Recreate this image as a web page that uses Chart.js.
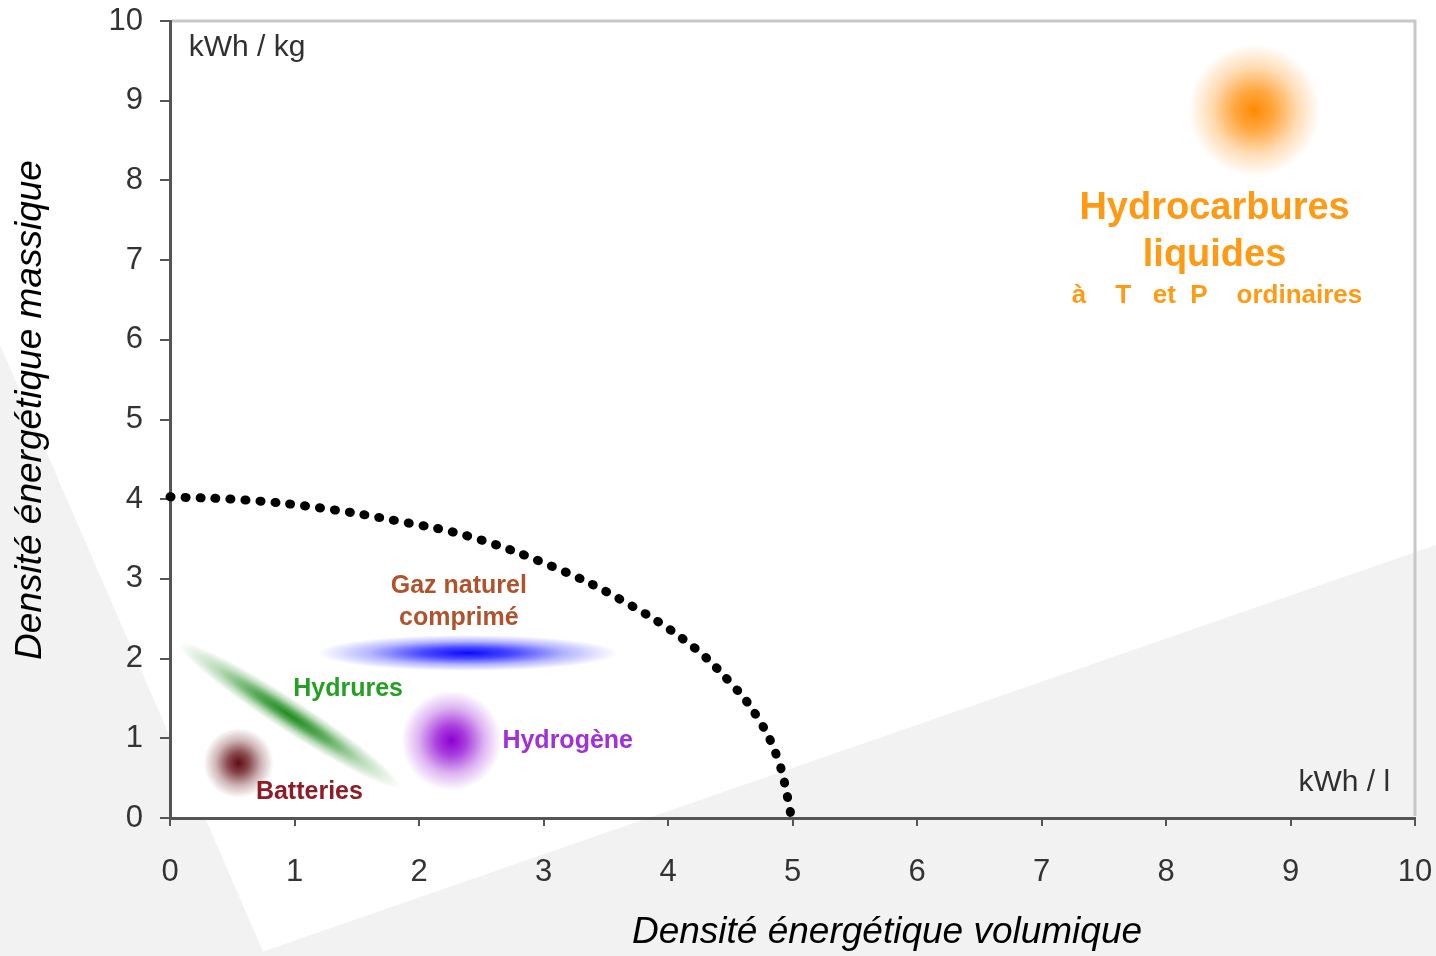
<!DOCTYPE html>
<html lang="fr">
<head>
<meta charset="utf-8">
<title>Densité énergétique</title>
<script src="https://cdn.jsdelivr.net/npm/chart.js@4.4.1/dist/chart.umd.min.js"></script>
<style>
  html, body { margin: 0; padding: 0; background: #fff; }
  #wrap { width: 1436px; height: 956px; }
</style>
</head>
<body>
<div id="wrap"><canvas id="chart" width="1436" height="956"></canvas></div>
<script>
// --- data ---
const axisMin = 0;
const axisMax = 10;

// dotted limit curve (kWh/l, kWh/kg)
const curveX = [0, 0.6, 1.21, 1.85, 2.41, 3.08, 3.62, 4.16, 4.5, 4.72, 4.88, 4.97, 4.99];
const curveY = [4.03, 3.99, 3.89, 3.72, 3.53, 3.15, 2.74, 2.2, 1.7, 1.26, 0.75, 0.19, 0];

// storage technologies (centre of each blob)
const blobNames = ['Batteries', 'Hydrures', 'Gaz naturel comprimé', 'Hydrogène', 'Hydrocarbures liquides'];
const blobX = [0.55, 0.96, 2.39, 2.26, 8.71];
const blobY = [0.69, 1.29, 2.07, 0.97, 8.88];

// text labels and their anchor in data units
const labelText = ['kWh / kg', 'kWh / l', 'Gaz naturel', 'comprimé', 'Hydrures', 'Batteries', 'Hydrogène',
                   'Hydrocarbures', 'liquides', 'à    T   et  P    ordinaires'];
const labelX = [0.15, 9.8, 2.32, 2.32, 0.99, 0.69, 2.67, 8.39, 8.39, 8.41];
const labelY = [9.66, 0.44, 2.91, 2.51, 1.62, 0.33, 0.97, 7.65, 7.06, 6.55];

// --- styles ---
const FONT = '"Liberation Sans", Arial, sans-serif';
const blobStyle = [
    { rgb: [95, 12, 18],  rx: 35,  ry: 35, rot: 0 },
    { rgb: [30, 140, 30], rx: 132, ry: 16, rot: 33 },
    { rgb: [10, 10, 255], rx: 150, ry: 18, rot: 0 },
    { rgb: [140, 0, 210], rx: 50,  ry: 50, rot: 0 },
    { rgb: [255, 138, 0], rx: 66,  ry: 66, rot: 0 }
];
const labelStyle = [
    { font: `30px ${FONT}`, color: '#303030', align: 'left' },
    { font: `30px ${FONT}`, color: '#303030', align: 'right' },
    { font: `bold 25px ${FONT}`, color: '#b0532c', align: 'center' },
    { font: `bold 25px ${FONT}`, color: '#b0532c', align: 'center' },
    { font: `bold 25px ${FONT}`, color: '#25a025', align: 'left' },
    { font: `bold 25px ${FONT}`, color: '#8e1c26', align: 'left' },
    { font: `bold 25px ${FONT}`, color: '#a030d8', align: 'left' },
    { font: `bold 38px ${FONT}`, color: '#ff9a14', align: 'center' },
    { font: `bold 38px ${FONT}`, color: '#ff9a14', align: 'center' },
    { font: `bold 26px ${FONT}`, color: '#ff9a14', align: 'center' }
];

const backdrop = {
    id: 'backdrop',
    beforeDraw(chart) {
        const { ctx, width, height, chartArea: a } = chart;
        ctx.save();
        ctx.fillStyle = '#ffffff';
        ctx.fillRect(0, 0, width, height);
        ctx.fillStyle = '#f2f2f2';
        // left wedge stays outside the plot area
        ctx.save();
        ctx.beginPath();
        ctx.rect(0, 0, width, height);
        ctx.rect(a.left, a.top, a.right - a.left, a.bottom - a.top);
        ctx.clip('evenodd');
        ctx.beginPath();
        ctx.moveTo(0, 345); ctx.lineTo(265, height); ctx.lineTo(0, height);
        ctx.closePath(); ctx.fill();
        ctx.restore();
        ctx.beginPath();
        ctx.moveTo(250, height); ctx.lineTo(width, 545); ctx.lineTo(width, height);
        ctx.closePath(); ctx.fill();
        ctx.restore();
    }
};

const blobs = {
    id: 'blobs',
    beforeDatasetsDraw(chart) {
        const { ctx, scales: { x, y } } = chart;
        blobX.forEach((bx, i) => {
            const s = blobStyle[i];
            const c = s.rgb.join(',');
            ctx.save();
            ctx.translate(x.getPixelForValue(bx), y.getPixelForValue(blobY[i]));
            ctx.rotate(s.rot * Math.PI / 180);
            ctx.scale(s.rx, s.ry);
            const g = ctx.createRadialGradient(0, 0, 0, 0, 0, 1);
            g.addColorStop(0, `rgba(${c},1)`);
            g.addColorStop(0.3, `rgba(${c},0.75)`);
            g.addColorStop(0.65, `rgba(${c},0.3)`);
            g.addColorStop(1, `rgba(${c},0)`);
            ctx.fillStyle = g;
            ctx.beginPath();
            ctx.arc(0, 0, 1, 0, Math.PI * 2);
            ctx.fill();
            ctx.restore();
        });
    }
};

const labels = {
    id: 'labels',
    afterDraw(chart) {
        const { ctx, chartArea: a, scales: { x, y } } = chart;
        ctx.save();
        // light frame on top and right
        ctx.strokeStyle = '#c8c8c8';
        ctx.lineWidth = 3;
        ctx.beginPath();
        ctx.moveTo(a.left + 2, a.top);
        ctx.lineTo(a.right, a.top);
        ctx.lineTo(a.right, a.bottom - 2);
        ctx.stroke();

        ctx.textBaseline = 'middle';
        labelText.forEach((t, i) => {
            const s = labelStyle[i];
            ctx.font = s.font;
            ctx.fillStyle = s.color;
            ctx.textAlign = s.align;
            ctx.fillText(t, x.getPixelForValue(labelX[i]), y.getPixelForValue(labelY[i]));
        });

        // axis titles
        ctx.fillStyle = '#000';
        ctx.font = `italic 37px ${FONT}`;
        ctx.textAlign = 'center';
        ctx.fillText('Densité énergétique volumique', 887, 933);
        ctx.translate(31, 410);
        ctx.rotate(-Math.PI / 2);
        ctx.fillText('Densité énergétique massique', 0, 0);
        ctx.restore();
    }
};

const axis = (pad, len) => ({
    type: 'linear',
    min: axisMin,
    max: axisMax,
    ticks: { stepSize: 1, padding: pad, color: '#333', font: { family: FONT, size: 31 } },
    grid: { drawOnChartArea: false, drawTicks: true, tickLength: len, color: '#555', lineWidth: 2 },
    border: { display: true, color: '#555', width: 3 }
});

// fixed scale boxes so the plot area lands where the picture has it
const xAxis = axis(28, 8);
xAxis.afterFit = s => { s.height = 138; s.paddingLeft = 0; s.paddingRight = 0; };
const yAxis = axis(17, 10);
yAxis.afterFit = s => { s.width = 170; s.paddingTop = 0; s.paddingBottom = 0; };

new Chart(document.getElementById('chart'), {
    type: 'scatter',
    data: {
        datasets: [{
            label: 'limite',
            data: curveX.map((v, i) => ({ x: v, y: curveY[i] })),
            showLine: true,
            borderColor: '#000',
            borderWidth: 9,
            borderDash: [1, 14],
            borderCapStyle: 'round',
            tension: 0.4,
            pointRadius: 0,
            clip: false
        }, {
            label: 'technologies',
            data: blobX.map((v, i) => ({ x: v, y: blobY[i] })),
            pointRadius: 0
        }]
    },
    options: {
        responsive: false,
        animation: false,
        layout: { padding: { top: 21, right: 21, left: 0, bottom: 0 } },
        scales: { x: xAxis, y: yAxis },
        plugins: { legend: { display: false }, tooltip: { enabled: false } }
    },
    plugins: [backdrop, blobs, labels]
});
</script>
</body>
</html>
